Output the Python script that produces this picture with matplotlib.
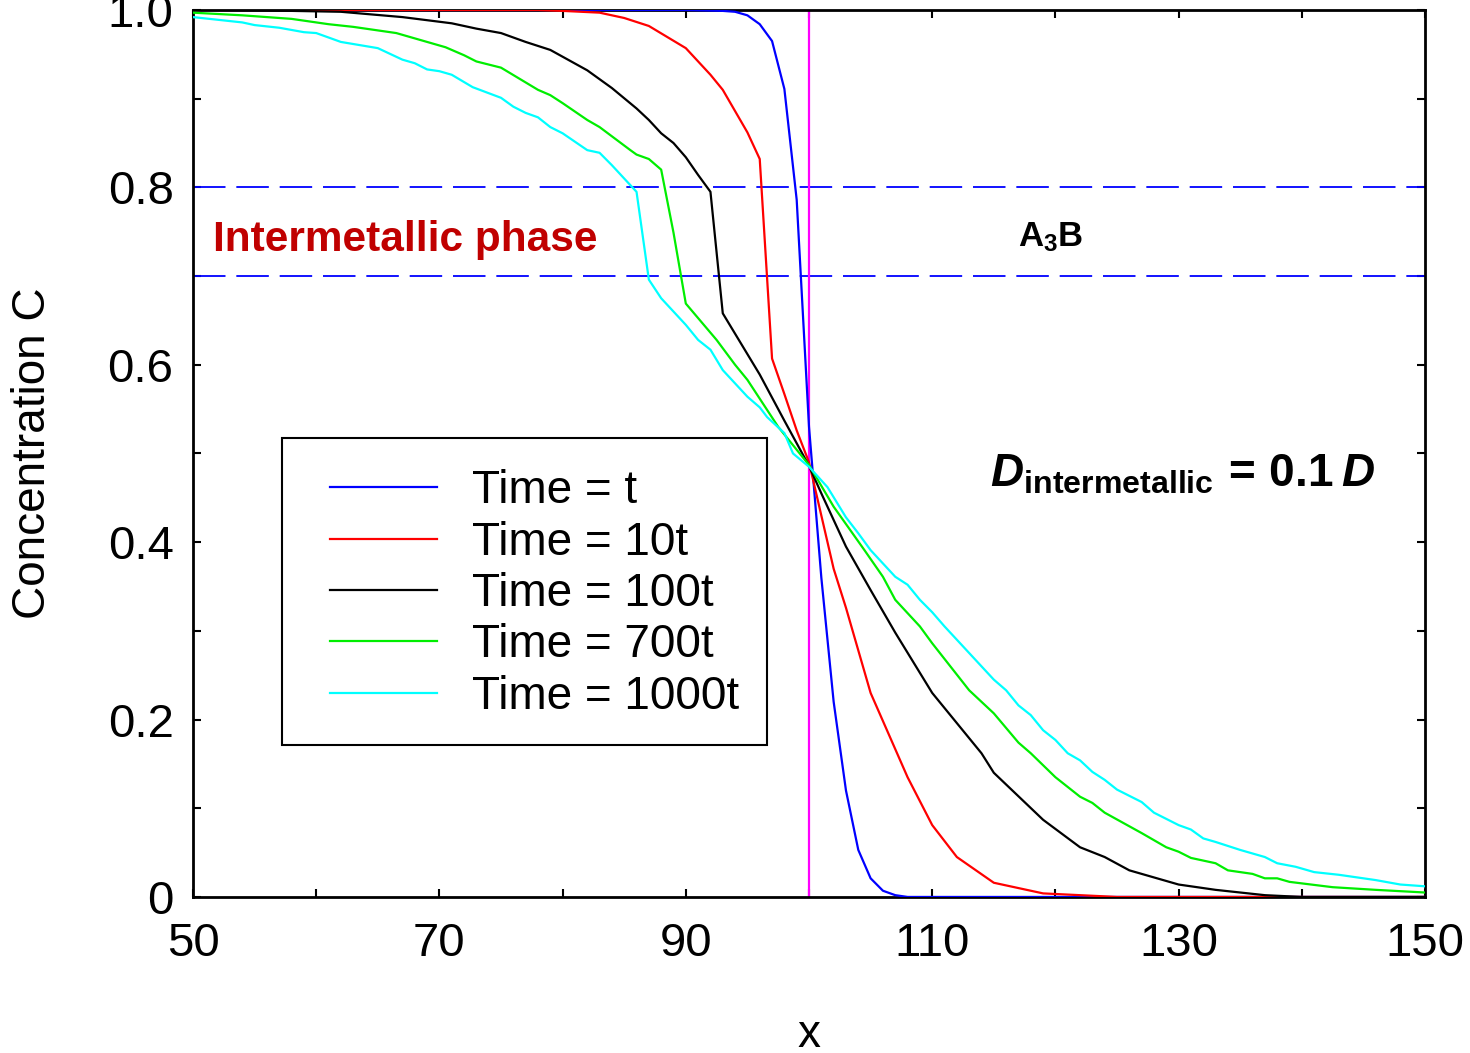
import numpy as np
import matplotlib
matplotlib.use("Agg")
import matplotlib.pyplot as plt
from matplotlib.patches import Rectangle

plt.rcParams['font.family'] = ['Liberation Sans', 'DejaVu Sans']
plt.rcParams['mathtext.fontset'] = 'custom'
plt.rcParams['mathtext.rm'] = 'Liberation Sans'
plt.rcParams['mathtext.it'] = 'Liberation Sans:italic'
plt.rcParams['mathtext.bf'] = 'Liberation Sans:bold'
plt.rcParams['mathtext.bfit'] = 'Liberation Sans:italic:bold'

# ---- data ----
x_t = [50, 90, 93, 94, 95, 96, 97, 98, 99, 100, 101, 102, 103, 104, 105, 106, 107, 108, 150]
c_t = [1.0, 1.0, 0.999, 0.998, 0.994, 0.984, 0.965, 0.911, 0.786, 0.53, 0.36, 0.22, 0.12,
       0.053, 0.021, 0.007, 0.002, 0.0, 0.0]

x_10t = [50, 78, 80, 83, 85, 87, 90, 92, 93, 95, 96, 97, 98, 99, 100, 101, 102, 103, 105,
         108, 110, 112, 115, 119, 125, 150]
c_10t = [1.0, 1.0, 0.999, 0.997, 0.991, 0.982, 0.957, 0.927, 0.910, 0.862, 0.832, 0.607,
         0.567, 0.526, 0.49, 0.43, 0.37, 0.326, 0.23, 0.135, 0.081, 0.045, 0.016, 0.004, 0.0, 0.0]

x_100t = [50, 58, 62, 67, 71, 73, 75, 77, 79, 82, 84, 86, 87, 88, 89, 90, 91, 92, 93, 96, 98,
          100, 101, 103, 105, 107, 110, 114, 115, 119, 122, 124, 126, 129, 130, 133, 137, 140, 150]
c_100t = [1.0, 0.999, 0.998, 0.992, 0.985, 0.979, 0.974, 0.964, 0.955, 0.932, 0.912, 0.889,
          0.876, 0.861, 0.850, 0.834, 0.814, 0.795, 0.658, 0.589, 0.537, 0.486, 0.455, 0.395,
          0.346, 0.298, 0.23, 0.162, 0.140, 0.087, 0.056, 0.045, 0.030, 0.018, 0.014, 0.008,
          0.002, 0.0, 0.0]

x_700t = [50, 54, 58, 61, 63, 66.5, 70.5, 72, 73, 75, 78, 79, 80, 82, 83, 85.5, 86, 87, 88, 89,
          90, 92.5, 94, 95, 97.5, 100, 102, 104.5, 106, 107, 109, 110, 113, 115, 117, 118, 120,
          122, 123, 124, 127, 129, 130, 131, 133, 134, 136, 137, 138, 139, 142.5, 146, 150]
c_700t = [0.997, 0.994, 0.990, 0.984, 0.981, 0.974, 0.958, 0.949, 0.942, 0.935, 0.910, 0.904,
          0.895, 0.876, 0.868, 0.842, 0.837, 0.832, 0.820, 0.749, 0.669, 0.628, 0.600, 0.583,
          0.530, 0.487, 0.44, 0.391, 0.361, 0.335, 0.305, 0.286, 0.233, 0.207, 0.174, 0.162,
          0.135, 0.113, 0.106, 0.095, 0.072, 0.056, 0.051, 0.044, 0.038, 0.030, 0.026, 0.021,
          0.021, 0.017, 0.011, 0.008, 0.005]

x_1000t = [50, 54, 55, 57, 59, 60, 62, 65, 67, 68, 69, 70, 71, 72.7, 75, 76, 77, 78, 79, 80, 82,
           83, 84, 86, 87, 88, 90, 91, 92, 93, 95, 96, 96.6, 98, 98.7, 100, 101.5, 103, 104, 105,
           107, 108, 109, 110, 111, 112, 115, 116, 117, 118, 119, 120, 121, 122, 123, 124, 125,
           127, 128, 130, 131, 132, 133, 135, 137, 138, 139.5, 141, 143, 146, 148, 150]
c_1000t = [0.992, 0.986, 0.983, 0.980, 0.975, 0.974, 0.964, 0.957, 0.944, 0.940, 0.933, 0.931,
           0.927, 0.913, 0.901, 0.891, 0.884, 0.879, 0.868, 0.861, 0.842, 0.839, 0.825, 0.795,
           0.696, 0.675, 0.645, 0.628, 0.617, 0.594, 0.564, 0.552, 0.541, 0.523, 0.50, 0.485,
           0.462, 0.428, 0.410, 0.391, 0.361, 0.352, 0.335, 0.321, 0.305, 0.290, 0.245, 0.233,
           0.216, 0.205, 0.188, 0.177, 0.162, 0.154, 0.141, 0.132, 0.121, 0.107, 0.095, 0.081,
           0.076, 0.066, 0.062, 0.053, 0.045, 0.038, 0.034, 0.028, 0.025, 0.019, 0.014, 0.012]

labels = ["Time = t", "Time = 10t", "Time = 100t", "Time = 700t", "Time = 1000t"]
colors = ["#0000ff", "#ff0000", "#000000", "#00ee00", "#00ffff"]
phase_bounds = [0.7, 0.8]
interface_x = 100

xticks = [50, 60, 70, 80, 90, 100, 110, 120, 130, 140, 150]
xticklabels = ["50", "", "70", "", "90", "", "110", "", "130", "", "150"]
yticks = [0, 0.1, 0.2, 0.3, 0.4, 0.5, 0.6, 0.7, 0.8, 0.9, 1.0]
yticklabels = ["0", "", "0.2", "", "0.4", "", "0.6", "", "0.8", "", "1.0"]

series = [(x_t, c_t), (x_10t, c_10t), (x_100t, c_100t), (x_700t, c_700t), (x_1000t, c_1000t)]

fig = plt.figure(figsize=(14.7, 10.53), dpi=100)
ax = fig.add_axes([0.1313, 0.1482, 0.8381, 0.8423])

for (xs, cs), lab, col in zip(series, labels, colors):
    ax.plot(xs, cs, color=col, lw=1.6, label=lab, zorder=3)

for yb in phase_bounds:
    ax.axhline(yb, color="#0000ff", lw=1.3, dashes=(18, 6), zorder=2)
ax.axvline(interface_x, color="#ff00ff", lw=1.6, zorder=2)

ax.set_xlim(50, 150)
ax.set_ylim(0, 1.0)
ax.set_xticks(xticks, labels=xticklabels)
ax.set_yticks(yticks, labels=yticklabels)
ax.tick_params(direction="in", top=True, right=True, length=6, width=1.5,
               labelsize=34)
ax.tick_params(axis="x", pad=18)
ax.tick_params(axis="y", pad=14)
for sp in ax.spines.values():
    sp.set_linewidth(2)

ax.set_xlabel("x", fontsize=33, labelpad=34)
ax.set_ylabel("Concentration C", fontsize=33, labelpad=38)

ax.text(51.6, 0.741, "Intermetallic phase", color="#c00000", fontsize=30.5,
        fontweight="bold", ha="left", va="center")
ax.text(119.6, 0.744, r"$\mathbf{A_3B}$", fontsize=25, ha="center", va="center")
ax.text(114.7, 0.476,
        r"$\mathbfit{D}_{\mathbf{intermetallic}}\,\mathbf{=}\,\mathbf{0.1}\:\mathbfit{D}$",
        fontsize=33, ha="left", va="center")

# legend frame drawn by hand so the inner padding matches
ax.add_patch(Rectangle((0.0722, 0.171), 0.466 - 0.0722, 0.5175 - 0.171,
                       transform=ax.transAxes, facecolor="white", edgecolor="black",
                       lw=1.5, zorder=4))
leg = ax.legend(loc="upper left", bbox_to_anchor=(0.1112, 0.482), fontsize=33,
                frameon=False, handlelength=2.34, handletextpad=0.76,
                labelspacing=0.16, borderpad=0, borderaxespad=0)
leg.set_zorder(5)

fig.savefig("out.png", dpi=100)
